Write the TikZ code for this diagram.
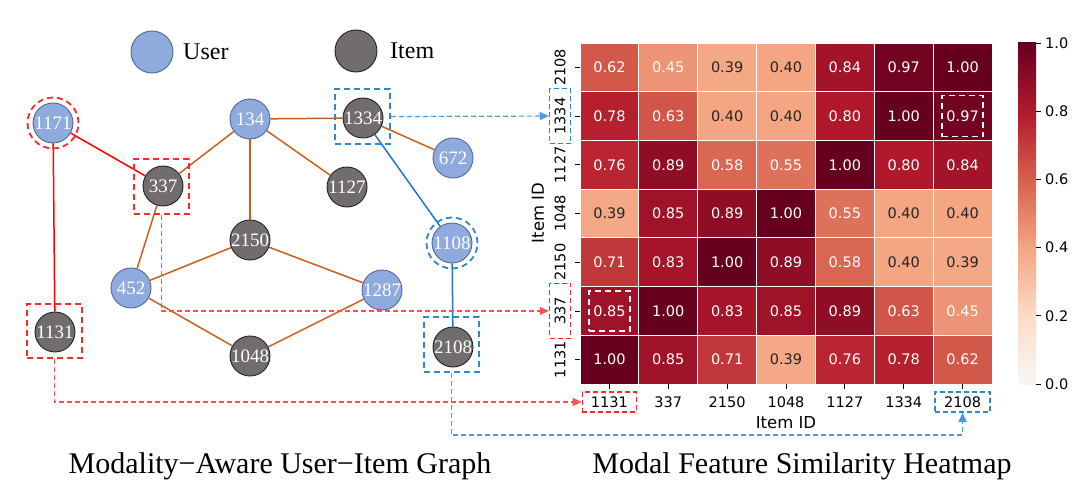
\documentclass[tikz,border=0pt]{standalone}
\usepackage{fontspec}
\setmainfont{Liberation Serif}
\newfontfamily\dejavu{DejaVu Sans}
\usetikzlibrary{arrows.meta}
\definecolor{userfill}{RGB}{143,170,220}
\definecolor{userdraw}{RGB}{80,105,150}
\definecolor{itemfill}{RGB}{113,109,109}
\definecolor{itemdraw}{RGB}{35,35,35}
\definecolor{edgeor}{RGB}{200,95,30}
\definecolor{edgered}{RGB}{255,0,0}
\definecolor{edgeblue}{RGB}{30,120,200}
\definecolor{dashred}{RGB}{255,40,40}
\definecolor{dashblue}{RGB}{45,135,210}
\definecolor{linkred}{RGB}{255,80,80}
\definecolor{linkblue}{RGB}{70,155,225}
\definecolor{txtdark}{RGB}{38,38,38}
\definecolor{hs0}{RGB}{247,247,247}
\definecolor{hs1}{RGB}{253,219,199}
\definecolor{hs2}{RGB}{244,165,130}
\definecolor{hs3}{RGB}{214,96,77}
\definecolor{hs4}{RGB}{178,24,43}
\definecolor{hs5}{RGB}{103,0,31}
\tikzset{
  gnode/.style={circle, minimum size=40pt, inner sep=0pt, line width=0.9pt, text=white,
    font=\fontsize{19}{19}\selectfont},
  user/.style={gnode, fill=userfill, draw=userdraw},
  item/.style={gnode, fill=itemfill, draw=itemdraw},
  oedge/.style={draw=edgeor, line width=1.5pt},
  redge/.style={draw=edgered, line width=1.5pt},
  bedge/.style={draw=edgeblue, line width=1.5pt},
  hlbox/.style={line width=1.8pt, dash pattern=on 6pt off 4pt, inner sep=0pt},
  hlsq/.style={hlbox, rectangle, minimum width=55pt, minimum height=55pt},
  hlcirc/.style={hlbox, circle, minimum size=51pt},
  link/.style={line width=1.2pt, dash pattern=on 5pt off 3pt,
    -{Triangle[length=9pt,width=8pt]}},
  cell/.style={rectangle, minimum width=58.86pt, minimum height=48.71pt, draw=white,
    line width=0.8pt, inner sep=0pt, font=\dejavu\fontsize{14.5}{14.5}\selectfont},
  tick/.style={font=\dejavu\fontsize{14.5}{14.5}\selectfont, text=black, inner sep=0pt},
  axlab/.style={font=\dejavu\fontsize{16.5}{16.5}\selectfont, inner sep=0pt},
  caption/.style={font=\fontsize{30}{30}\selectfont, anchor=base, inner sep=0pt},
  legtext/.style={font=\fontsize{24}{24}\selectfont, anchor=west, inner sep=0pt},
}
\begin{document}
\begin{tikzpicture}[x=1pt, y=-1pt]
\useasboundingbox[fill=white] (0,0) rectangle (1080,503);
% legend
\node[user, minimum size=42pt] (leguser) at (152,52) {};
\node[legtext] (legusertxt) at (183,52) {User};
\node[item, minimum size=42pt] (legitem) at (356,51) {};
\node[legtext] (legitemtxt) at (390,51) {Item};
% graph nodes
\node[user] (n1171) at (53,123) {1171};
\node[user] (n134) at (250,119) {134};
\node[item] (n337) at (163,186) {337};
\node[item] (n1334) at (363,118) {1334};
\node[user] (n672) at (453,158) {672};
\node[item] (n1127) at (347,187) {1127};
\node[item] (n2150) at (250,240) {2150};
\node[user] (n452) at (131,288) {452};
\node[item] (n1131) at (55,332) {1131};
\node[item] (n1048) at (250,356) {1048};
\node[user] (n1108) at (452,243) {1108};
\node[user] (n1287) at (382,290) {1287};
\node[item] (n2108) at (453,347) {2108};
% edges
\draw[oedge] (n134) -- (n1334);
\draw[oedge] (n134) -- (n337);
\draw[oedge] (n134) -- (n2150);
\draw[oedge] (n134) -- (n1127);
\draw[oedge] (n1334) -- (n672);
\draw[oedge] (n337) -- (n452);
\draw[oedge] (n452) -- (n2150);
\draw[oedge] (n2150) -- (n1287);
\draw[oedge] (n452) -- (n1048);
\draw[oedge] (n1048) -- (n1287);
\draw[redge] (n1171) -- (n337);
\draw[redge] (n1171) -- (n1131);
\draw[bedge] (n1334) -- (n1108);
\draw[bedge] (n1108) -- (n2108);
% highlight frames
\node[hlcirc, draw=dashred] (h1171) at (n1171) {};
\node[hlcirc, draw=dashblue] (h1108) at (n1108) {};
\node[hlsq, draw=dashred] (h337) at (161.5,186.5) {};
\node[hlsq, draw=dashred, minimum height=54pt] (h1131) at (54.5,331) {};
\node[hlsq, draw=dashblue] (h1334) at (362.5,116.5) {};
\node[hlsq, draw=dashblue] (h2108) at (451.5,344.5) {};
% heatmap cells
\foreach \row [count=\r from 0] in {
  {0.62,0.45,0.39,0.40,0.84,0.97,1.00},
  {0.78,0.63,0.40,0.40,0.80,1.00,0.97},
  {0.76,0.89,0.58,0.55,1.00,0.80,0.84},
  {0.39,0.85,0.89,1.00,0.55,0.40,0.40},
  {0.71,0.83,1.00,0.89,0.58,0.40,0.39},
  {0.85,1.00,0.83,0.85,0.89,0.63,0.45},
  {1.00,0.85,0.71,0.39,0.76,0.78,0.62}} {
  \foreach \v [count=\c from 0] in \row {
    \pgfmathtruncatemacro\seg{min(4,floor(\v*5+0.0001))}
    \pgfmathtruncatemacro\nxt{\seg+1}
    \pgfmathtruncatemacro\pct{round((\v*5-\seg)*100)}
    \colorlet{cellc}{hs\nxt!\pct!hs\seg}
    \ifdim\v pt<0.42pt \def\tcol{txtdark}\else\def\tcol{white}\fi
    \node[cell, fill=cellc, text=\tcol] (cell-\r-\c) at ({580+58.86*(\c+0.5)},{43+48.71*(\r+0.5)}) {\v};
  }
}
% ticks and tick labels
\foreach \lab [count=\c from 0] in {1131,337,2150,1048,1127,1334,2108} {
  \draw[line width=0.8pt] ({580+58.86*(\c+0.5)},384) -- ({580+58.86*(\c+0.5)},389);
  \node[tick] (xl-\c) at ({580+58.86*(\c+0.5)},402) {\lab};
}
\foreach \lab [count=\r from 0] in {2108,1334,1127,1048,2150,337,1131} {
  \draw[line width=0.8pt] (575,{43+48.71*(\r+0.5)}) -- (580,{43+48.71*(\r+0.5)});
  \node[tick, rotate=90] (yl-\r) at (560,{43+48.71*(\r+0.5)}) {\lab};
}
\node[axlab] (xaxlab) at (786,423) {Item ID};
\node[axlab, rotate=90] (yaxlab) at (538,213) {Item ID};
% colorbar
\foreach \k [evaluate=\k as \kn using int(\k+1)] in {0,1,2,3,4} {
  \shade[bottom color=hs\k, top color=hs\kn] (1018,{384-68.2*(\k+1)}) rectangle (1036,{384-68.2*\k});
}
\foreach \t [count=\i from 0] in {0.0,0.2,0.4,0.6,0.8,1.0} {
  \draw[line width=0.8pt] (1036,{384-68.2*\i}) -- (1041,{384-68.2*\i});
  \node[tick, anchor=west] (cb-\i) at (1045,{384-68.2*\i}) {\t};
}
% highlight boxes on heatmap
\node[hlbox, draw=dashblue, line width=1.5pt, dash pattern=on 5pt off 3pt, minimum width=21pt, minimum height=55pt] (hy1334) at (yl-1) {};
\node[hlbox, draw=dashred, line width=1.5pt, dash pattern=on 5pt off 3pt, minimum width=21pt, minimum height=55pt] (hy337) at (yl-5) {};
\node[hlbox, draw=dashred, line width=1.5pt, dash pattern=on 5pt off 3pt, minimum width=54pt, minimum height=20pt] (hx1131) at (xl-0) {};
\node[hlbox, draw=dashblue, line width=1.5pt, dash pattern=on 5pt off 3pt, minimum width=55pt, minimum height=20pt] (hx2108) at (xl-6) {};
\node[hlbox, draw=white, line width=1.5pt, dash pattern=on 6pt off 4pt, minimum width=41pt, minimum height=41pt] (hc1) at (cell-1-6) {};
\node[hlbox, draw=white, line width=1.5pt, dash pattern=on 6pt off 4pt, minimum width=41pt, minimum height=40pt] (hc2) at (cell-5-0) {};
% links
\draw[link, linkblue] (h1334.east) -- (hy1334.west);
\draw[link, linkred] (h337.south) |- (hy337.west);
\draw[link, linkred] (h1131.south) |- (hx1131.west);
\coordinate (bend2108) at (451.5,435);
\draw[link, linkblue] (h2108.south) -- (bend2108) -| (hx2108.south);
% captions
\node[caption] (cap1) at (280,473) {Modality−Aware User−Item Graph};
\node[caption] (cap2) at (802,473) {Modal Feature Similarity Heatmap};
\end{tikzpicture}
\end{document}
